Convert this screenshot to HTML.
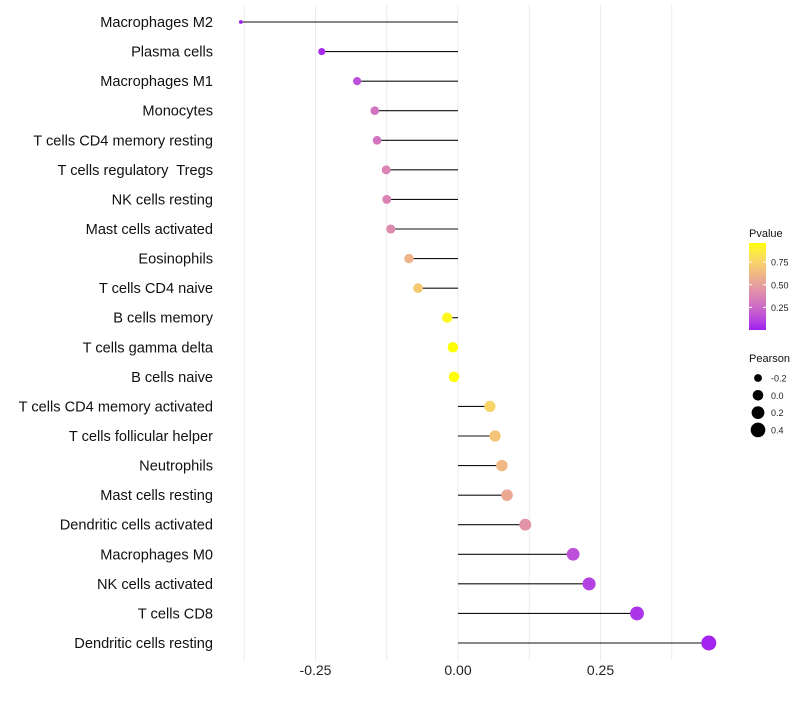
<!DOCTYPE html>
<html><head><meta charset="utf-8"><style>
body{margin:0;background:#fff;font-family:"Liberation Sans",sans-serif}
svg text{font-family:"Liberation Sans",sans-serif;white-space:pre}
</style></head><body>
<svg id="chart" width="800" height="700"></svg>
<script>
const categories=["Macrophages M2","Plasma cells","Macrophages M1","Monocytes","T cells CD4 memory resting","T cells regulatory  Tregs","NK cells resting","Mast cells activated","Eosinophils","T cells CD4 naive","B cells memory","T cells gamma delta","B cells naive","T cells CD4 memory activated","T cells follicular helper","Neutrophils","Mast cells resting","Dendritic cells activated","Macrophages M0","NK cells activated","T cells CD8","Dendritic cells resting"];
const pearson=[-0.381,-0.239,-0.177,-0.146,-0.142,-0.126,-0.125,-0.118,-0.086,-0.070,-0.019,-0.009,-0.007,0.056,0.065,0.077,0.086,0.118,0.202,0.230,0.314,0.440];
const pvalue=[0.0,0.03,0.15,0.3,0.3,0.37,0.37,0.4,0.6,0.7,0.93,0.96,0.96,0.75,0.68,0.62,0.55,0.45,0.15,0.1,0.05,0.01];
const xTicks=[-0.25,0,0.25];
const xTickLabels=["-0.25","0.00","0.25"];
const pLegend=[0.75,0.5,0.25];
const sizeLegend=[-0.2,0,0.2,0.4];

const NS="http://www.w3.org/2000/svg";
const svg=document.getElementById('chart');
function mk(t,a,p){const e=document.createElementNS(NS,t);for(const k in a)e.setAttribute(k,a[k]);(p||svg).appendChild(e);return e;}
const x=v=>458+v*570;
const y=i=>22+i*(621/21);
const r=v=>Math.sqrt(Math.max(2,28+64*v));
function toLab(h){let c=[1,3,5].map(i=>parseInt(h.substr(i,2),16)/255).map(v=>v>0.04045?Math.pow((v+0.055)/1.055,2.4):v/12.92);
let X=(c[0]*0.4124+c[1]*0.3576+c[2]*0.1805)/0.95047,Y=c[0]*0.2126+c[1]*0.7152+c[2]*0.0722,Z=(c[0]*0.0193+c[1]*0.1192+c[2]*0.9505)/1.08883;
const f=t=>t>0.008856?Math.cbrt(t):7.787*t+16/116;return[116*f(Y)-16,500*(f(X)-f(Y)),200*(f(Y)-f(Z))];}
function fromLab(L){let fy=(L[0]+16)/116,fx=fy+L[1]/500,fz=fy-L[2]/200;const g=t=>t*t*t>0.008856?t*t*t:(t-16/116)/7.787;
let X=g(fx)*0.95047,Y=g(fy),Z=g(fz)*1.08883;let rgb=[X*3.2406-Y*1.5372-Z*0.4986,-X*0.9689+Y*1.8758+Z*0.0415,X*0.0557-Y*0.2040+Z*1.0570];
return 'rgb('+rgb.map(v=>{v=v>0.0031308?1.055*Math.pow(v,1/2.4)-0.055:12.92*v;return Math.round(Math.min(1,Math.max(0,v))*255)}).join(',')+')';}
const lo=toLab('#A020F0'),hi=toLab('#FFFF00');
const col=p=>{const t=Math.min(1,Math.max(0,p/0.96));return fromLab(lo.map((v,i)=>v+(hi[i]-v)*t));};

for(let g=-0.375;g<=0.376;g+=0.125){const l=mk('line',{x1:x(g),x2:x(g),y1:5,y2:660,stroke:'#ebebeb','stroke-width':1});}
categories.forEach((c,i)=>{
 const t=mk('text',{x:213,y:y(i)+5,'text-anchor':'end','font-size':14.6,fill:'#111'});t.textContent=c;
 
});
categories.forEach((c,i)=>{
 const s=mk('line',{x1:x(0),x2:x(pearson[i]),y1:y(i),y2:y(i),stroke:'#111','stroke-width':1.1});
 
 const d=mk('circle',{cx:x(pearson[i]),cy:y(i),r:r(pearson[i]),fill:col(pvalue[i])});
 
});
xTicks.forEach((v,i)=>{const t=mk('text',{x:x(v),y:675,'text-anchor':'middle','font-size':14,fill:'#222'});t.textContent=xTickLabels[i];
 });
const lt=mk('text',{x:749,y:237,'font-size':11,fill:'#111'});lt.textContent='Pvalue';

const defs=mk('defs',{});const lg=mk('linearGradient',{id:'pg',x1:0,y1:1,x2:0,y2:0},defs);
for(let k=0;k<=10;k++)mk('stop',{offset:k/10,'stop-color':col(0.96*k/10)},lg);
const bar=mk('rect',{x:749,y:243,width:17,height:87,fill:'url(#pg)'});

const py=p=>330-p*90.5;
pLegend.forEach(p=>{mk('line',{x1:749,x2:752,y1:py(p),y2:py(p),stroke:'#fff'});mk('line',{x1:763,x2:766,y1:py(p),y2:py(p),stroke:'#fff'});
 const t=mk('text',{x:771,y:py(p)+3.5,'font-size':9,fill:'#222'});t.textContent=p.toFixed(2);
 });
const st=mk('text',{x:749,y:362,'font-size':11,fill:'#111'});st.textContent='Pearson';

sizeLegend.forEach((v,i)=>{const cy=378+i*17.3;
 const c=mk('circle',{cx:758,cy:cy,r:r(v),fill:'#000'});
 const t=mk('text',{x:771,y:cy+3.5,'font-size':9,fill:'#222'});t.textContent=v.toFixed(1);
 });
</script>
</body></html>
